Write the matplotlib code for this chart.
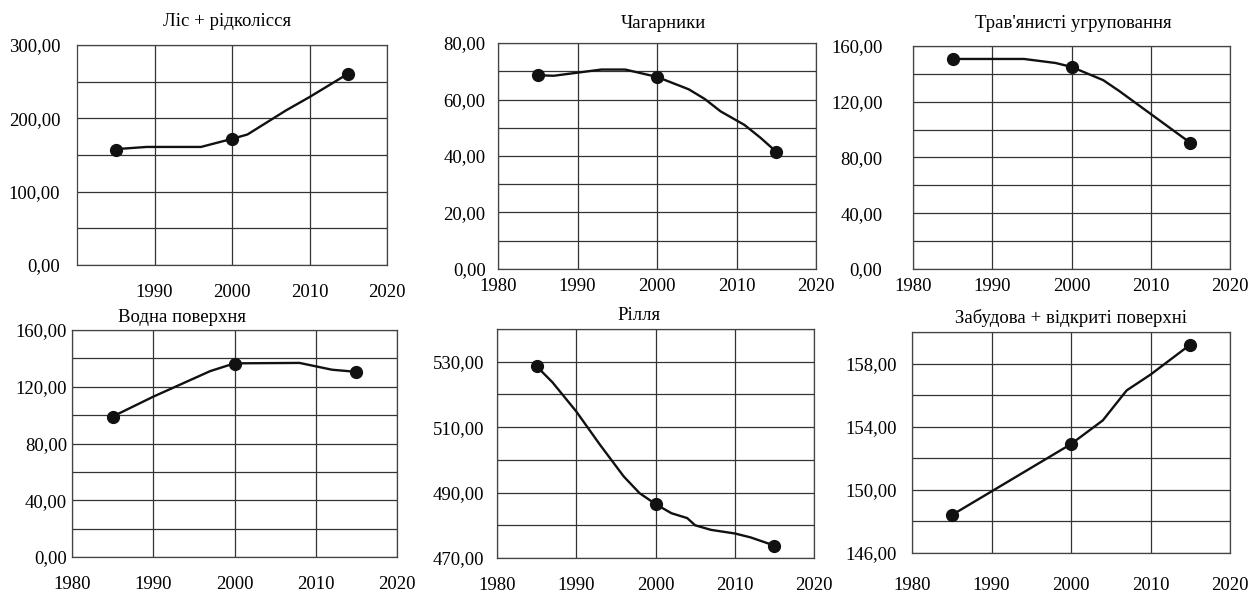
import numpy as np
import matplotlib.pyplot as plt
import matplotlib as mlt

mlt.rcParams['font.family'] = ['Liberation Serif', 'DejaVu Serif']

W, H = 1252, 595

# survey years (points) and the drawn smoothed curve
years = [1985, 2000, 2015]

lis_pts = [157, 172, 261]
lis_cx = [1985, 1989, 1996, 2000, 2002, 2007, 2010, 2015]
lis_cy = [158, 161, 161, 172, 178, 211, 229, 261]

chag_pts = [68.6, 68.0, 41.5]
chag_cx = [1985, 1987, 1993, 1996, 2000, 2004, 2006, 2008, 2011, 2013, 2015]
chag_cy = [68.6, 68.4, 70.6, 70.6, 68.0, 63.6, 60.2, 55.8, 51.0, 46.5, 41.5]

trav_pts = [150.7, 145.0, 90.5]
trav_cx = [1985, 1994, 1998, 2000, 2004, 2006, 2015]
trav_cy = [150.7, 150.7, 147.8, 145.0, 135.5, 127.8, 90.5]

vod_pts = [99.0, 136.0, 130.5]
vod_cx = [1985, 1990, 1997, 2000, 2008, 2012, 2015]
vod_cy = [99.0, 113.0, 131.0, 136.5, 136.8, 132.0, 130.5]

ril_pts = [528.6, 486.5, 473.8]
ril_cx = [1985, 1987, 1990, 1993, 1996, 1998, 2000, 2002, 2004, 2005, 2007, 2010, 2012, 2015]
ril_cy = [528.6, 523.7, 514.8, 504.6, 494.9, 489.8, 486.5, 483.7, 482.2, 480.0, 478.6, 477.5, 476.3, 473.8]

zab_pts = [148.4, 152.9, 159.2]
zab_cx = [1985, 1990, 1996, 2000, 2004, 2007, 2010, 2015]
zab_cy = [148.4, 149.9, 151.7, 152.9, 154.4, 156.3, 157.3, 159.2]

titles = ["Ліс + рідколісся", "Чагарники", "Трав'янисті угруповання",
          "Водна поверхня", "Рілля", "Забудова + відкриті поверхні"]

ymaj = [[0, 100, 200, 300], [0, 20, 40, 60, 80], [0, 40, 80, 120, 160],
        [0, 40, 80, 120, 160], [470, 490, 510, 530], [146, 150, 154, 158]]
ymin = [[50, 150, 250], [10, 30, 50, 70], [20, 60, 100, 140],
        [20, 60, 100, 140], [480, 500, 520, 540], [148, 152, 156, 160]]
ylims = [(0, 300), (0, 80), (0, 160), (0, 160), (470, 540), (146, 160)]

# layout in pixels: left, top, right, bottom / title x, y / tick pads
boxes = [(77, 45, 387, 265), (498, 43, 816, 269), (913, 46, 1230, 269),
         (72, 330, 397, 557), (497, 329, 814, 558), (912, 332, 1230, 553)]
title_xy = [(227, 22), (663, 23), (1073, 23), (182, 317), (639, 316), (1071, 318)]
xpad = [14, 6.5, 6.5, 14, 14, 17]
ypad = [12, 9, 22, 3.5, 9, 11]

series = [(lis_pts, lis_cx, lis_cy), (chag_pts, chag_cx, chag_cy),
          (trav_pts, trav_cx, trav_cy), (vod_pts, vod_cx, vod_cy),
          (ril_pts, ril_cx, ril_cy), (zab_pts, zab_cx, zab_cy)]

fig = plt.figure(figsize=(W / 100, H / 100), dpi=100)

for i in range(6):
    l, t, r, b = boxes[i]
    ax = fig.add_axes([l / W, 1 - b / H, (r - l) / W, (b - t) / H])
    pts, cx, cy = series[i]
    ax.plot(cx, cy, color='#111111', lw=1.7, zorder=3)
    ax.plot(years, pts, 'o', color='#111111', ms=8.5, zorder=4)

    ax.set_xlim(1980, 2020)
    ax.set_ylim(*ylims[i])
    if i == 0:
        ax.set_xticks([1990, 2000, 2010, 2020])
    else:
        ax.set_xticks([1980, 1990, 2000, 2010, 2020])
    ax.set_yticks(ymaj[i])
    ax.set_yticks(ymin[i], minor=True)
    ax.set_yticklabels([("%.2f" % v).replace('.', ',') for v in ymaj[i]])

    ax.grid(True, which='both', color='#333333', lw=0.9)
    ax.tick_params(which='both', length=0, labelsize=13.5)
    ax.tick_params(axis='x', pad=xpad[i])
    ax.tick_params(axis='y', pad=ypad[i])
    for s in ax.spines.values():
        s.set_color('#444444')
        s.set_linewidth(0.9)

    fig.text(title_xy[i][0] / W, 1 - title_xy[i][1] / H, titles[i],
             ha='center', va='center', fontsize=13.5)

fig.savefig('out.png', dpi=100)
